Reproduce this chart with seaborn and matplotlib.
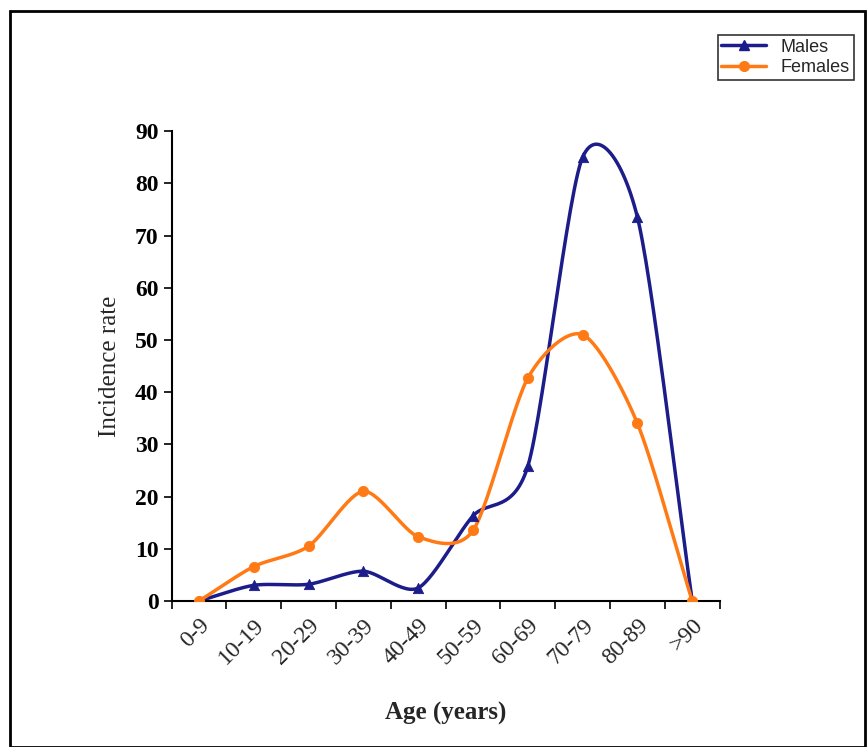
import numpy as np
import pandas as pd
import seaborn as sns
import matplotlib.pyplot as plt

age_groups = ['0-9', '10-19', '20-29', '30-39', '40-49', '50-59', '60-69', '70-79', '80-89', '>90']
males = [0, 3.0, 3.2, 5.7, 2.5, 16.3, 25.8, 85.0, 73.5, 0]
females = [0, 6.6, 10.5, 21.0, 12.3, 13.5, 42.7, 51.0, 34.0, 0]


def smooth(x, y, n=30, k=0.8):
    # cardinal spline through the points, like Excel's smoothed line
    x = np.asarray(x, float); y = np.asarray(y, float)
    px = np.concatenate([[2 * x[0] - x[1]], x, [2 * x[-1] - x[-2]]])
    py = np.concatenate([[2 * y[0] - y[1]], y, [2 * y[-1] - y[-2]]])
    xs, ys = [], []
    t = np.linspace(0, 1, n)
    h00 = 2 * t ** 3 - 3 * t ** 2 + 1
    h10 = t ** 3 - 2 * t ** 2 + t
    h01 = -2 * t ** 3 + 3 * t ** 2
    h11 = t ** 3 - t ** 2
    for i in range(1, len(px) - 2):
        for p, out in ((px, xs), (py, ys)):
            m1 = k * (p[i + 1] - p[i - 1]) / 2
            m2 = k * (p[i + 2] - p[i]) / 2
            out.append(h00 * p[i] + h10 * m1 + h01 * p[i + 1] + h11 * m2)
    return np.concatenate(xs), np.concatenate(ys)


df = pd.DataFrame({'pos': np.arange(len(age_groups)) + 0.5, 'Males': males, 'Females': females})

sns.set_style('ticks')
plt.rcParams['font.family'] = ['Liberation Serif', 'DejaVu Serif']

fig = plt.figure(figsize=(8.67, 7.47), dpi=100)
ax = fig.add_axes([0.198, 0.1955, 0.632, 0.629])

specs = [('Males', '#1c1c8a', '^'), ('Females', '#ff7a14', 'o')]
handles = []
for name, color, marker in specs:
    sx, sy = smooth(df['pos'], df[name])
    sns.lineplot(x=sx, y=sy, ax=ax, color=color, lw=2.5, sort=False)
    sns.scatterplot(data=df, x='pos', y=name, ax=ax, color=color, marker=marker, s=55, edgecolor=color, zorder=3)
    handles.append(plt.Line2D([], [], color=color, lw=2.5, marker=marker, markersize=7, label=name))

ax.set_xlim(0, len(age_groups))
ax.set_ylim(0, 90)
ax.set_yticks(range(0, 91, 10))
ax.set_xticks(np.arange(len(age_groups) + 1), minor=False)
ax.set_xticklabels([])
ax.set_xticks(df['pos'], minor=True)
ax.set_xticklabels(age_groups, minor=True, rotation=45, ha='right', rotation_mode='anchor', fontsize=17)
ax.tick_params(axis='x', which='minor', length=0, pad=10)
ax.tick_params(axis='x', which='major', length=6, width=1.2, direction='out', colors='black')
ax.tick_params(axis='y', length=6, width=1.2, labelsize=17, colors='black')
for lab in ax.get_yticklabels():
    lab.set_fontweight('bold')
for side in ['top', 'right']:
    ax.spines[side].set_visible(False)
for side in ['left', 'bottom']:
    ax.spines[side].set_linewidth(1.5)
    ax.spines[side].set_color('black')

ax.set_ylabel('Incidence rate', fontsize=18, labelpad=10)
ax.set_xlabel('Age (years)', fontsize=18, fontweight='bold', labelpad=24)

leg = fig.legend(handles=handles, loc='upper right', bbox_to_anchor=(0.995, 0.965),
                 prop={'family': 'Liberation Sans', 'size': 13}, frameon=True, fancybox=False,
                 edgecolor='black', borderpad=0.2, handlelength=2.5, labelspacing=0.2)
leg.get_frame().set_linewidth(1.2)

fig.patches.append(plt.Rectangle((0.012, 0.0), 0.986, 0.985, transform=fig.transFigure,
                                 fill=False, edgecolor='black', lw=2))

fig.savefig('out.png', dpi=100)
